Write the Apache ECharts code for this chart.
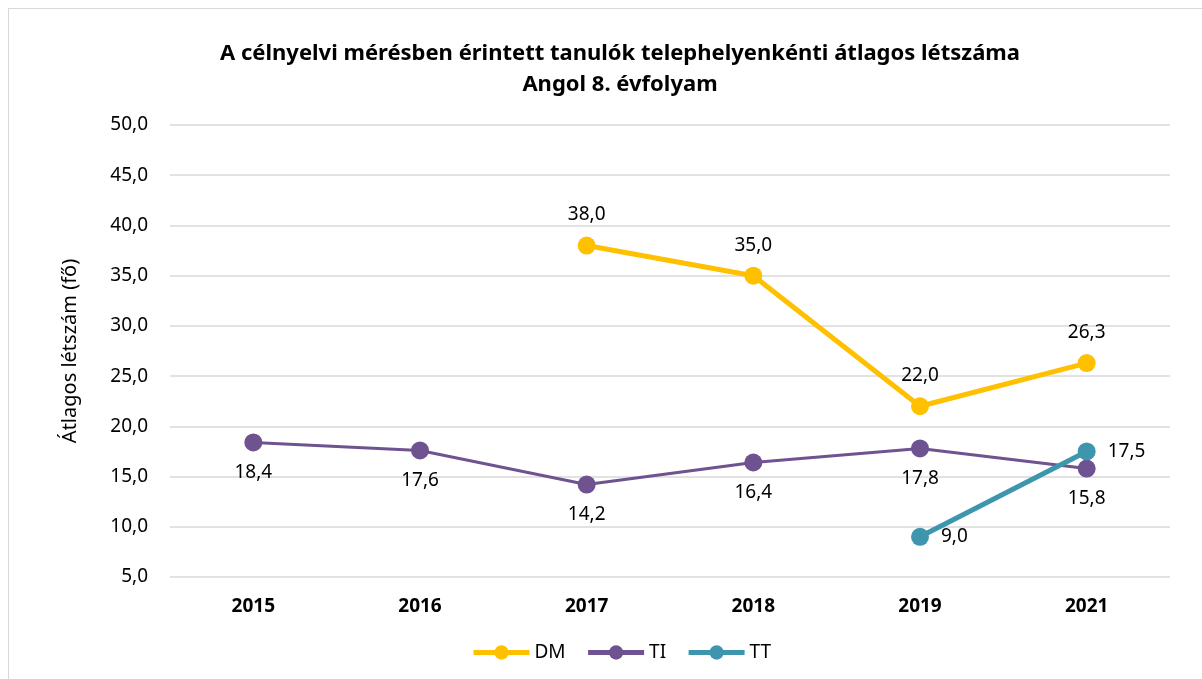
<!DOCTYPE html>
<html>
<head>
<meta charset="utf-8">
<script src="https://cdn.jsdelivr.net/npm/echarts@6/dist/echarts.min.js"></script>
<style>
  html, body { margin: 0; padding: 0; background: #fff; }
  #frame { position: absolute; left: 8px; top: 8px; width: 1194px; height: 671px; border-left: 1px solid #d9d9d9; border-top: 1px solid #d9d9d9; box-sizing: border-box; }
  #chart { position: absolute; left: 0; top: 0; width: 1202px; height: 679px; }
</style>
</head>
<body>
<div id="frame"></div>
<div id="chart"></div>
<script>
var years = ['2015', '2016', '2017', '2018', '2019', '2021'];
var dmValues = [null, null, 38.0, 35.0, 22.0, 26.3];
var tiValues = [18.4, 17.6, 14.2, 16.4, 17.8, 15.8];
var ttValues = [null, null, null, null, 9.0, 17.5];

var font = 'Noto Sans';
function fmt(v) { return v.toFixed(1).replace('.', ','); }

var chart = echarts.init(document.getElementById('chart'), null, { renderer: 'canvas' });

function lineSeries(name, data, color, width, pos) {
  return {
    name: name,
    type: 'line',
    data: data,
    symbol: 'circle',
    symbolSize: 18,
    connectNulls: false,
    lineStyle: { color: color, width: width },
    itemStyle: { color: color },
    label: {
      show: true,
      position: pos,
      distance: 12,
      color: '#000',
      fontFamily: font,
      fontSize: 19,
      formatter: function (p) { return fmt(p.value); }
    }
  };
}

var option = {
  animation: false,
  color: ['#FFC000', '#6F5290', '#3E96AE'],
  title: {
    text: 'A célnyelvi mérésben érintett tanulók telephelyenkénti átlagos létszáma\nAngol 8. évfolyam',
    left: 615,
    textAlign: 'center',
    top: 33,
    textStyle: { fontFamily: font, fontSize: 22, fontWeight: 'bold', color: '#000', lineHeight: 31 }
  },
  legend: {
    bottom: 12,
    left: 466,
    itemWidth: 56,
    itemHeight: 18,
    itemGap: 20,
    lineStyle: { width: 5 },
    textStyle: { fontFamily: font, fontSize: 19, color: '#000' },
    data: ['DM', 'TI', 'TT']
  },
  grid: { left: 170, right: 32, top: 125, bottom: 102 },
  xAxis: {
    type: 'category',
    data: years,
    boundaryGap: true,
    axisLine: { show: false },
    axisTick: { show: false },
    axisLabel: { fontFamily: font, fontSize: 19, fontWeight: 'bold', color: '#000', margin: 20 }
  },
  yAxis: {
    type: 'value',
    min: 5,
    max: 50,
    interval: 5,
    name: 'Átlagos létszám (fő)',
    nameLocation: 'middle',
    nameRotate: 90,
    nameGap: 90,
    nameTextStyle: { fontFamily: font, fontSize: 20, color: '#000' },
    axisLine: { show: false },
    axisTick: { show: false },
    splitLine: { lineStyle: { color: '#d9d9d9', width: 1.5 } },
    axisLabel: { fontFamily: font, fontSize: 19, color: '#000', margin: 22, formatter: function (v) { return fmt(v); } }
  },
  series: [
    lineSeries('DM', dmValues, '#FFC000', 5, 'top'),
    lineSeries('TI', tiValues, '#6F5290', 3, 'bottom'),
    lineSeries('TT', ttValues, '#3E96AE', 5, 'right')
  ]
};

chart.setOption(option);
</script>
</body>
</html>
